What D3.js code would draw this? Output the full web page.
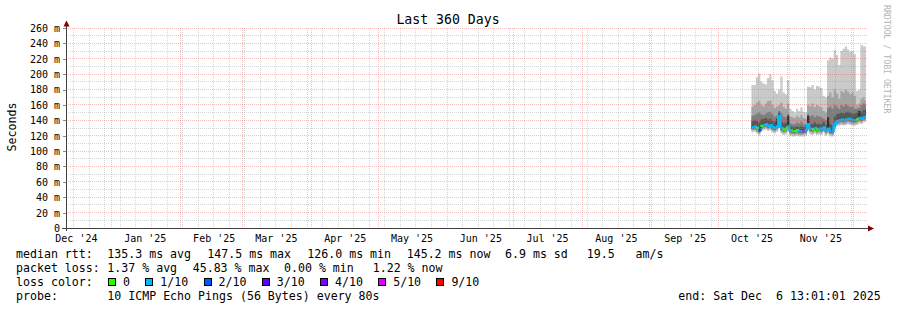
<!DOCTYPE html>
<html>
<head>
<meta charset="utf-8">
<script src="https://cdn.jsdelivr.net/npm/d3@7"></script>
<style>
body { margin: 0; background: #fff; }
svg text { font-family: "DejaVu Sans Mono", monospace; fill: #000; }
</style>
</head>
<body>
<svg id="chart" width="897" height="310"></svg>
<script>
// time window of the graph (360 days up to the end stamp)
const startTime = new Date(2024, 11, 11, 13, 1, 1);
const endTime = new Date(2025, 11, 6, 13, 1, 1);
const firstDay = new Date(2025, 9, 16);   // first day that has data

// y ticks
const yTicks = [0, 20, 40, 60, 80, 100, 120, 140, 160, 180, 200, 220, 240, 260];

// one value per day, Oct 16 .. Dec 6 (ms)
const median = [131,132,130,127,133,134,135,133,134,131,130,132,146,130,128,129,132,
  127,126,126,127,126,126,126,127,
  135,129,128,130,128,129,128,131,127,
  129,126,126,136,139,140,141,140,141,142,141,140,140,
  141,143,142,144,145];

// lost pings out of 10
const lossCount = [1,1,0,2,0,1,1,1,1,1,1,1,1,1,0,0,1,
  1,0,0,0,1,1,5,1,
  1,1,0,1,0,1,1,1,1,
  1,1,1,1,1,1,1,1,1,1,1,1,1,
  0,1,1,1,1];

// sorted pings (smoke), p1 = lowest .. p10 = highest
const p1 = [124,125,123,120,126,127,128,126,127,124,123,125,136,123,121,122,125,
  120,119,119,120,119,119,119,120,
  127,122,121,123,121,122,121,124,120,
  122,119,119,128,132,133,134,133,134,135,134,133,133,
  134,136,135,137,138];
const p2 = [127,127,125,123,128,129,130,128,129,126,125,127,139,125,123,124,127,
  122,122,121,122,121,121,122,122,
  129,124,123,125,123,124,123,126,122,
  124,122,121,130,134,135,136,135,136,137,136,135,135,
  136,138,137,139,140];
const p3 = [128,129,127,124,130,131,132,130,131,128,127,129,141,127,125,126,129,
  124,123,123,124,123,123,123,124,
  131,126,125,127,125,126,125,128,124,
  126,123,123,132,136,137,138,137,138,139,138,137,137,
  138,140,139,141,142];
const p4 = [129,130,128,125,131,132,133,131,132,129,128,130,143,128,126,127,130,
  125,124,124,125,124,124,124,125,
  132,127,126,128,126,127,126,129,125,
  127,124,124,133,137,138,139,138,139,140,139,138,138,
  139,141,140,142,143];
const p5 = [130,131,129,126,132,133,134,132,133,130,129,131,145,129,127,128,131,
  126,125,125,126,125,125,125,126,
  134,128,127,129,127,128,127,130,126,
  128,125,125,135,138,139,140,139,140,141,140,139,139,
  140,142,141,143,144];
const p6 = [133,134,132,129,135,136,137,135,136,133,132,142,148,132,130,131,146,
  129,128,128,129,128,128,128,129,
  146,131,130,132,130,131,130,133,129,
  144,128,128,138,141,142,143,142,143,144,143,142,142,
  143,152,144,146,147];
const p7 = [139,140,139,137,141,142,143,141,142,139,138,140,150,138,136,137,141,
  133,131,131,132,131,132,131,132,
  142,136,135,137,135,136,135,138,134,
  138,135,134,145,148,149,150,149,150,151,150,149,149,
  150,152,151,153,154];
const p8 = [146,147,149,150,148,147,149,150,151,148,145,146,152,149,145,144,148,
  136,135,135,137,136,138,135,135,
  148,145,147,144,146,145,144,142,140,
  156,158,155,160,158,155,160,158,161,159,157,158,155,
  155,156,160,162,160];
const p9 = [158,160,163,165,160,158,162,165,166,160,156,158,160,163,157,155,162,
  145,144,143,146,144,147,143,142,
  160,158,162,157,160,158,157,152,150,
  172,176,170,180,175,168,178,176,180,177,174,176,172,
  160,162,168,170,166];
const p10 = [186,186,196,201,190,188,187,195,200,192,178,175,180,197,176,174,192,
  155,152,150,155,152,157,151,150,
  184,183,186,180,185,184,182,172,170,
  218,222,220,231,225,212,230,233,236,232,229,230,226,
  178,180,238,236,236];

const smokeColors = ["#cacaca", "#a4a4a4", "#7e7e7e", "#585858", "#323232"];
const lossLabels = ["0", "1/10", "2/10", "3/10", "4/10", "5/10", "9/10"];
const lossColors = ["#26ff00", "#00b8ff", "#0059ff", "#5e00ff", "#7e00ff", "#dd00ff", "#ff0000"];

const svg = d3.select("#chart");
const plot = {left: 66, right: 866, top: 28, bottom: 228};

const x = d3.scaleTime().domain([startTime, endTime]).range([plot.left, plot.right]);
const y = d3.scaleLinear().domain([0, 260]).range([plot.bottom, plot.top]);

const n = median.length;
const times = median.map((m, i) => d3.timeDay.offset(firstDay, i)).concat([endTime]);
const idx = d3.range(n + 1);
const at = (arr, i) => arr[Math.min(i, n - 1)];

// smoke: outer pair first, inner pairs on top
const pings = [p1, p2, p3, p4, p5, p6, p7, p8, p9, p10];
const smokeG = svg.append("g");
for (let k = 0; k < 5; k++) {
    const lo = pings[k], hi = pings[9 - k];
    const area = d3.area()
        .curve(d3.curveStepAfter)
        .x(i => x(times[i]))
        .y0(i => y(at(lo, i)))
        .y1(i => y(at(hi, i)));
    smokeG.append("path")
        .attr("d", area(idx))
        .attr("fill", smokeColors[k]);
}

// median coloured by loss
function lossIndex(c) { return c >= 6 ? 6 : c; }
const medLine = d3.line().curve(d3.curveStepAfter).x(d => d[0]).y(d => d[1]);
for (let i = 0; i < n; i++) {
    const pts = [[x(times[i]), y(median[i])], [x(times[i + 1]), y(at(median, i + 1))]];
    svg.append("path")
        .attr("d", medLine(pts))
        .attr("fill", "none")
        .attr("stroke", lossColors[lossIndex(lossCount[i])])
        .attr("stroke-width", 2.5);
}

// grid (drawn over the graph, like rrdtool)
const gridG = svg.append("g").attr("shape-rendering", "crispEdges");
const minorY = d3.range(10, 260, 20);
const px = v => Math.floor(v) + 0.5;
const gridCol = "rgba(143,143,143,0.36)", mgridCol = "rgba(222,80,80,0.36)";

gridG.selectAll(".hmin").data(minorY).enter().append("line")
    .attr("x1", plot.left).attr("x2", plot.right + 2)
    .attr("y1", d => px(y(d))).attr("y2", d => px(y(d)))
    .attr("stroke", gridCol).attr("stroke-dasharray", "1,1");

const sundays = d3.timeSunday.range(startTime, endTime)
    .filter(d => d.getDate() !== 1);
gridG.selectAll(".vmin").data(sundays).enter().append("line")
    .attr("x1", d => px(x(d))).attr("x2", d => px(x(d)))
    .attr("y1", plot.top).attr("y2", plot.bottom + 2)
    .attr("stroke", gridCol).attr("stroke-dasharray", "1,1");

gridG.selectAll(".hmaj").data(yTicks.slice(1)).enter().append("line")
    .attr("x1", plot.left).attr("x2", plot.right + 2)
    .attr("y1", d => px(y(d))).attr("y2", d => px(y(d)))
    .attr("stroke", mgridCol).attr("stroke-dasharray", "1,1");

const monthStarts = d3.timeMonth.range(startTime, endTime);
gridG.selectAll(".vmaj").data(monthStarts).enter().append("line")
    .attr("x1", d => px(x(d))).attr("x2", d => px(x(d)))
    .attr("y1", plot.top).attr("y2", plot.bottom + 2)
    .attr("stroke", mgridCol).attr("stroke-dasharray", "1,1");

// y axis labels
const yAxis = d3.axisLeft(y).tickValues(yTicks).tickSize(3).tickPadding(3)
    .tickFormat(d => d === 0 ? "0" : d + " m");
const yg = svg.append("g")
    .attr("transform", `translate(${plot.left},0)`)
    .attr("shape-rendering", "crispEdges")
    .call(yAxis);
yg.select(".domain").remove();
yg.selectAll(".tick line").attr("stroke", "#888");
yg.selectAll(".tick text")
    .attr("font-family", "DejaVu Sans Mono").attr("font-size", "10px")
    .attr("x", -6).attr("dy", "0.34em");

// x axis labels, centred half a month after the month start
const labelDates = d3.timeMonth.range(new Date(2024, 11, 1), endTime)
    .map(m => d3.timeDay.offset(m, 15))
    .filter(d => d > startTime && d < endTime);
const xAxis = d3.axisBottom(x).tickValues(labelDates).tickSize(0)
    .tickFormat(d3.timeFormat("%b '%y"));
const xg = svg.append("g")
    .attr("transform", `translate(0,${plot.bottom})`)
    .call(xAxis);
xg.select(".domain").remove();
xg.selectAll(".tick text")
    .attr("font-family", "DejaVu Sans Mono").attr("font-size", "10px")
    .attr("y", 13.5).attr("dy", 0);

// axis lines with arrows
const axisCol = "#404040", arrowCol = "#7f0000";
svg.append("line").attr("x1", 66.5).attr("x2", 66.5).attr("y1", 231).attr("y2", 25)
    .attr("stroke", axisCol).attr("shape-rendering", "crispEdges");
svg.append("line").attr("x1", 62).attr("x2", 869).attr("y1", 228.5).attr("y2", 228.5)
    .attr("stroke", axisCol).attr("shape-rendering", "crispEdges");
svg.append("path").attr("d", "M63.5,26.5 L69.5,26.5 L66.5,20.5 Z").attr("fill", arrowCol);
svg.append("path").attr("d", "M868,225.5 L868,231.5 L874,228.5 Z").attr("fill", arrowCol);

// title and side texts
svg.append("text").attr("x", 448).attr("y", 24).attr("text-anchor", "middle")
    .attr("font-size", "13.2px").text("Last 360 Days");
svg.append("text").attr("transform", "translate(15.5,127) rotate(-90)")
    .attr("text-anchor", "middle").attr("font-size", "11.6px").text("Seconds");
svg.append("text").attr("transform", "translate(884,5) rotate(90)")
    .attr("font-size", "8.2px").style("fill", "#b4b4b4").text("RRDTOOL / TOBI OETIKER");

// legend
const legendFont = "11.6px";
function legendText(str, lx, ly) {
    return svg.append("text").attr("x", lx).attr("y", ly)
        .attr("font-size", legendFont).attr("xml:space", "preserve")
        .style("white-space", "pre").text(str);
}

const rttLegend = ["135.3 ms avg", "147.5 ms max", "126.0 ms min", "145.2 ms now", "6.9 ms sd", "19.5   am/s"];
const rttLegendX = [107.3, 207.3, 307.3, 406.7, 505, 586.7];
const lossLegend = ["1.37 % avg", "45.83 % max", "0.00 % min", "1.22 % now"];
const lossLegendX = [107.3, 192.7, 284, 372.7];

legendText("median rtt:", 16, 258);
rttLegend.forEach((s, i) => legendText(s, rttLegendX[i], 258));
legendText("packet loss:", 16, 272);
lossLegend.forEach((s, i) => legendText(s, lossLegendX[i], 272));
legendText("loss color:", 16, 286);

let cx = 108;
lossLabels.forEach((lab, i) => {
    svg.append("rect").attr("x", cx + 0.5).attr("y", 278.5).attr("width", 7).attr("height", 7)
        .attr("fill", lossColors[i]).attr("stroke", "#000").attr("shape-rendering", "crispEdges");
    const t = legendText(lab, cx + 15, 286);
    cx = cx + 15 + t.node().getComputedTextLength() + 15.3;
});

legendText("probe:", 16, 300);
legendText("10 ICMP Echo Pings (56 Bytes) every 80s", 107.3, 300);
legendText("end: Sat Dec  6 13:01:01 2025", 678.3, 300);
</script>
</body>
</html>
